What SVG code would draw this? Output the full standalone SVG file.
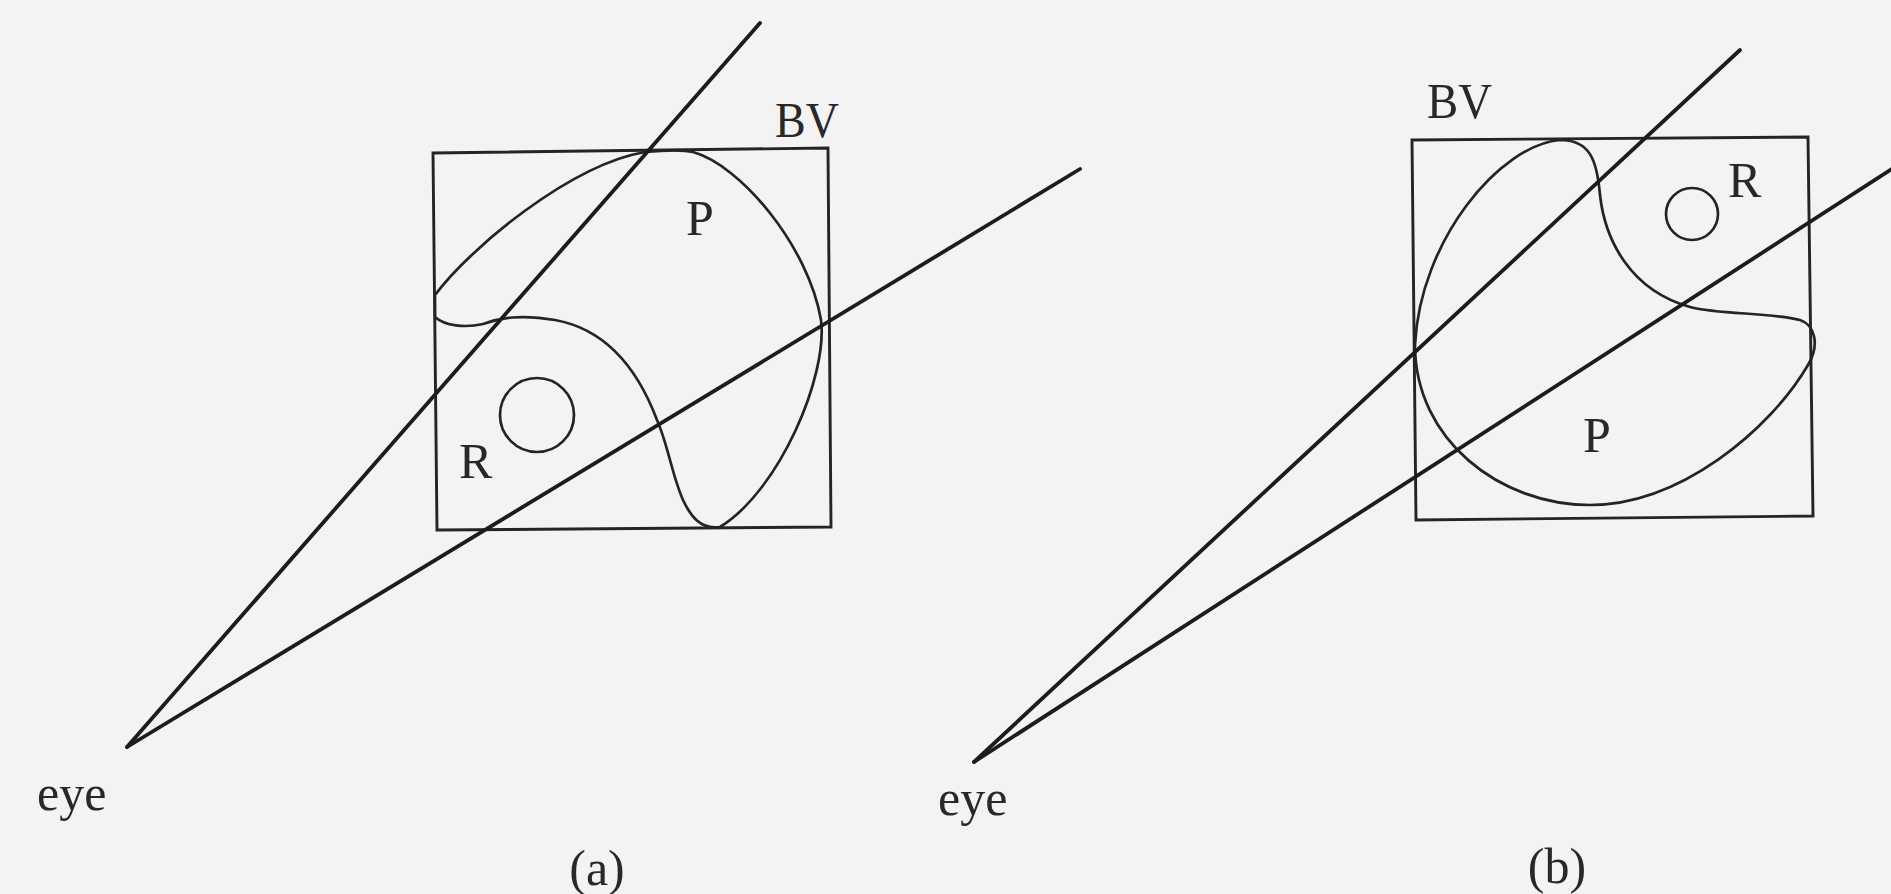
<svg xmlns="http://www.w3.org/2000/svg" width="1891" height="894" viewBox="0 0 1891 894">
<style>
.bg{fill:#f4f3f3}
.box{fill:none;stroke:#242424;stroke-width:2.9}
.blob{fill:none;stroke:#242424;stroke-width:2.7}
.ray{fill:none;stroke:#1c1c1c;stroke-width:3.8;stroke-linecap:round}
.lbl{font-family:"Liberation Serif","Times New Roman",serif;font-size:50px;fill:#282828}
</style>
<rect class="bg" x="0" y="0" width="1891" height="894"/>
<g id="panel-a">
  <g id="bv-a">
    <polygon class="box" points="433,153 828,148 831,527 437,530"/>
    <text class="lbl" x="775" y="137" textLength="64" lengthAdjust="spacingAndGlyphs">BV</text>
  </g>
  <g id="p-a">
    <path class="blob" d="M435,295 C470,248 570,165 645,152 C665,150 685,150 693,152 C740,165 808,245 821,320 C828,375 780,490 720,527 C700,530 690,515 683,500 C672,475 668,445 657,420 C640,375 610,330 555,320 C520,314 500,318 483,324 C465,328 445,326 435,317 Z"/>
    <text class="lbl" x="686" y="235">P</text>
  </g>
  <g id="r-a">
    <circle class="blob" cx="537" cy="415" r="37"/>
    <text class="lbl" x="459" y="478">R</text>
  </g>
  <g id="eye-a">
    <text class="lbl" x="37" y="810">eye</text>
  </g>
  <text class="lbl" x="597" y="885" text-anchor="middle">(a)</text>
</g>
<g id="panel-b">
  <g id="bv-b">
    <polygon class="box" points="1412,140 1808,137 1813,516 1416,520"/>
    <text class="lbl" x="1427" y="118" textLength="65" lengthAdjust="spacingAndGlyphs">BV</text>
  </g>
  <g id="p-b">
    <path class="blob" d="M1560,140 C1500,145 1420,240 1415,345 C1415,440 1500,505 1590,505 C1680,505 1770,430 1808,365 C1820,345 1815,325 1800,320 C1770,312 1720,315 1690,307 C1630,290 1605,240 1600,195 C1597,160 1590,140 1560,140 Z"/>
    <text class="lbl" x="1583" y="452">P</text>
  </g>
  <g id="r-b">
    <circle class="blob" cx="1692" cy="214" r="26"/>
    <text class="lbl" x="1728" y="197">R</text>
  </g>
  <g id="eye-b">
    <text class="lbl" x="938" y="815">eye</text>
  </g>
  <text class="lbl" x="1557" y="883" text-anchor="middle">(b)</text>
</g>
<g id="connectors">
  <line class="ray" x1="127" y1="747" x2="760" y2="23"/>
  <line class="ray" x1="127" y1="747" x2="1080" y2="169"/>
  <line class="ray" x1="974" y1="762" x2="1740" y2="50"/>
  <line class="ray" x1="974" y1="762" x2="1895" y2="167"/>
</g>
</svg>
